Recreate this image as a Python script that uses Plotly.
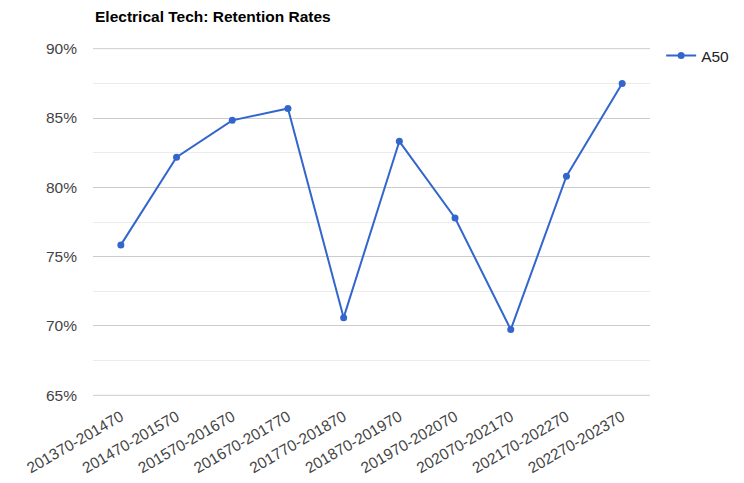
import plotly.graph_objects as go

categories = ["201370-201470", "201470-201570", "201570-201670", "201670-201770",
              "201770-201870", "201870-201970", "201970-202070", "202070-202170",
              "202170-202270", "202270-202370"]
a50 = [0.7585, 0.8217, 0.8483, 0.8569, 0.7060, 0.8332, 0.7779, 0.6974, 0.8080, 0.8749]
y_ticks = [0.65, 0.70, 0.75, 0.80, 0.85, 0.90]
y_minor = [0.675, 0.725, 0.775, 0.825, 0.875]
series_name = "A50"
title = "Electrical Tech: Retention Rates"

FS = 15.5

fig = go.Figure()
fig.add_trace(go.Scatter(
    x=categories, y=a50, name=series_name, mode="lines+markers",
    line=dict(color="#3366cc", width=2),
    marker=dict(color="#3366cc", size=7),
))

# edge gridlines (plotly drops gridlines at the range ends)
for v in (y_ticks[0], y_ticks[-1]):
    fig.add_shape(type="line", xref="paper", yref="y", x0=0, x1=1, y0=v, y1=v,
                  line=dict(color="#cccccc", width=1), layer="below")

fig.add_annotation(text="<b>" + title + "</b>", xref="paper", yref="paper",
                   x=0, y=1 + 32 / 348, xanchor="left", yanchor="middle",
                   showarrow=False, font=dict(size=FS, color="#000000"))

# page body has an 8px margin, so the figure is offset by 8px
fig.update_layout(
    width=736, height=475,
    margin=dict(l=85, r=94, t=40, b=87, autoexpand=False),
    paper_bgcolor="white", plot_bgcolor="white",
    font=dict(family="Liberation Sans, Arial, sans-serif", size=FS, color="#444444"),
    showlegend=True,
    legend=dict(x=1.02, xanchor="left", y=1 - 8 / 348, yanchor="middle",
                font=dict(size=FS, color="#222222"), bgcolor="rgba(0,0,0,0)"),
    xaxis=dict(showgrid=False, showline=False, zeroline=False, tickangle=-30,
               tickfont=dict(size=FS, color="#444444"), ticks="", range=[-0.5, 9.5],
               automargin=False, ticklabelstandoff=8),
    yaxis=dict(range=[0.6495, 0.9005], tickvals=y_ticks,
               tickformat=".0%", showgrid=True,
               gridcolor="#cccccc", gridwidth=1, zeroline=False, showline=False,
               tickfont=dict(size=FS, color="#444444"), ticks="", automargin=False,
               ticklabelstandoff=15,
               minor=dict(tickvals=y_minor, showgrid=True,
                          gridcolor="#ebebeb", gridwidth=1)),
)

fig.write_html("out.html")
